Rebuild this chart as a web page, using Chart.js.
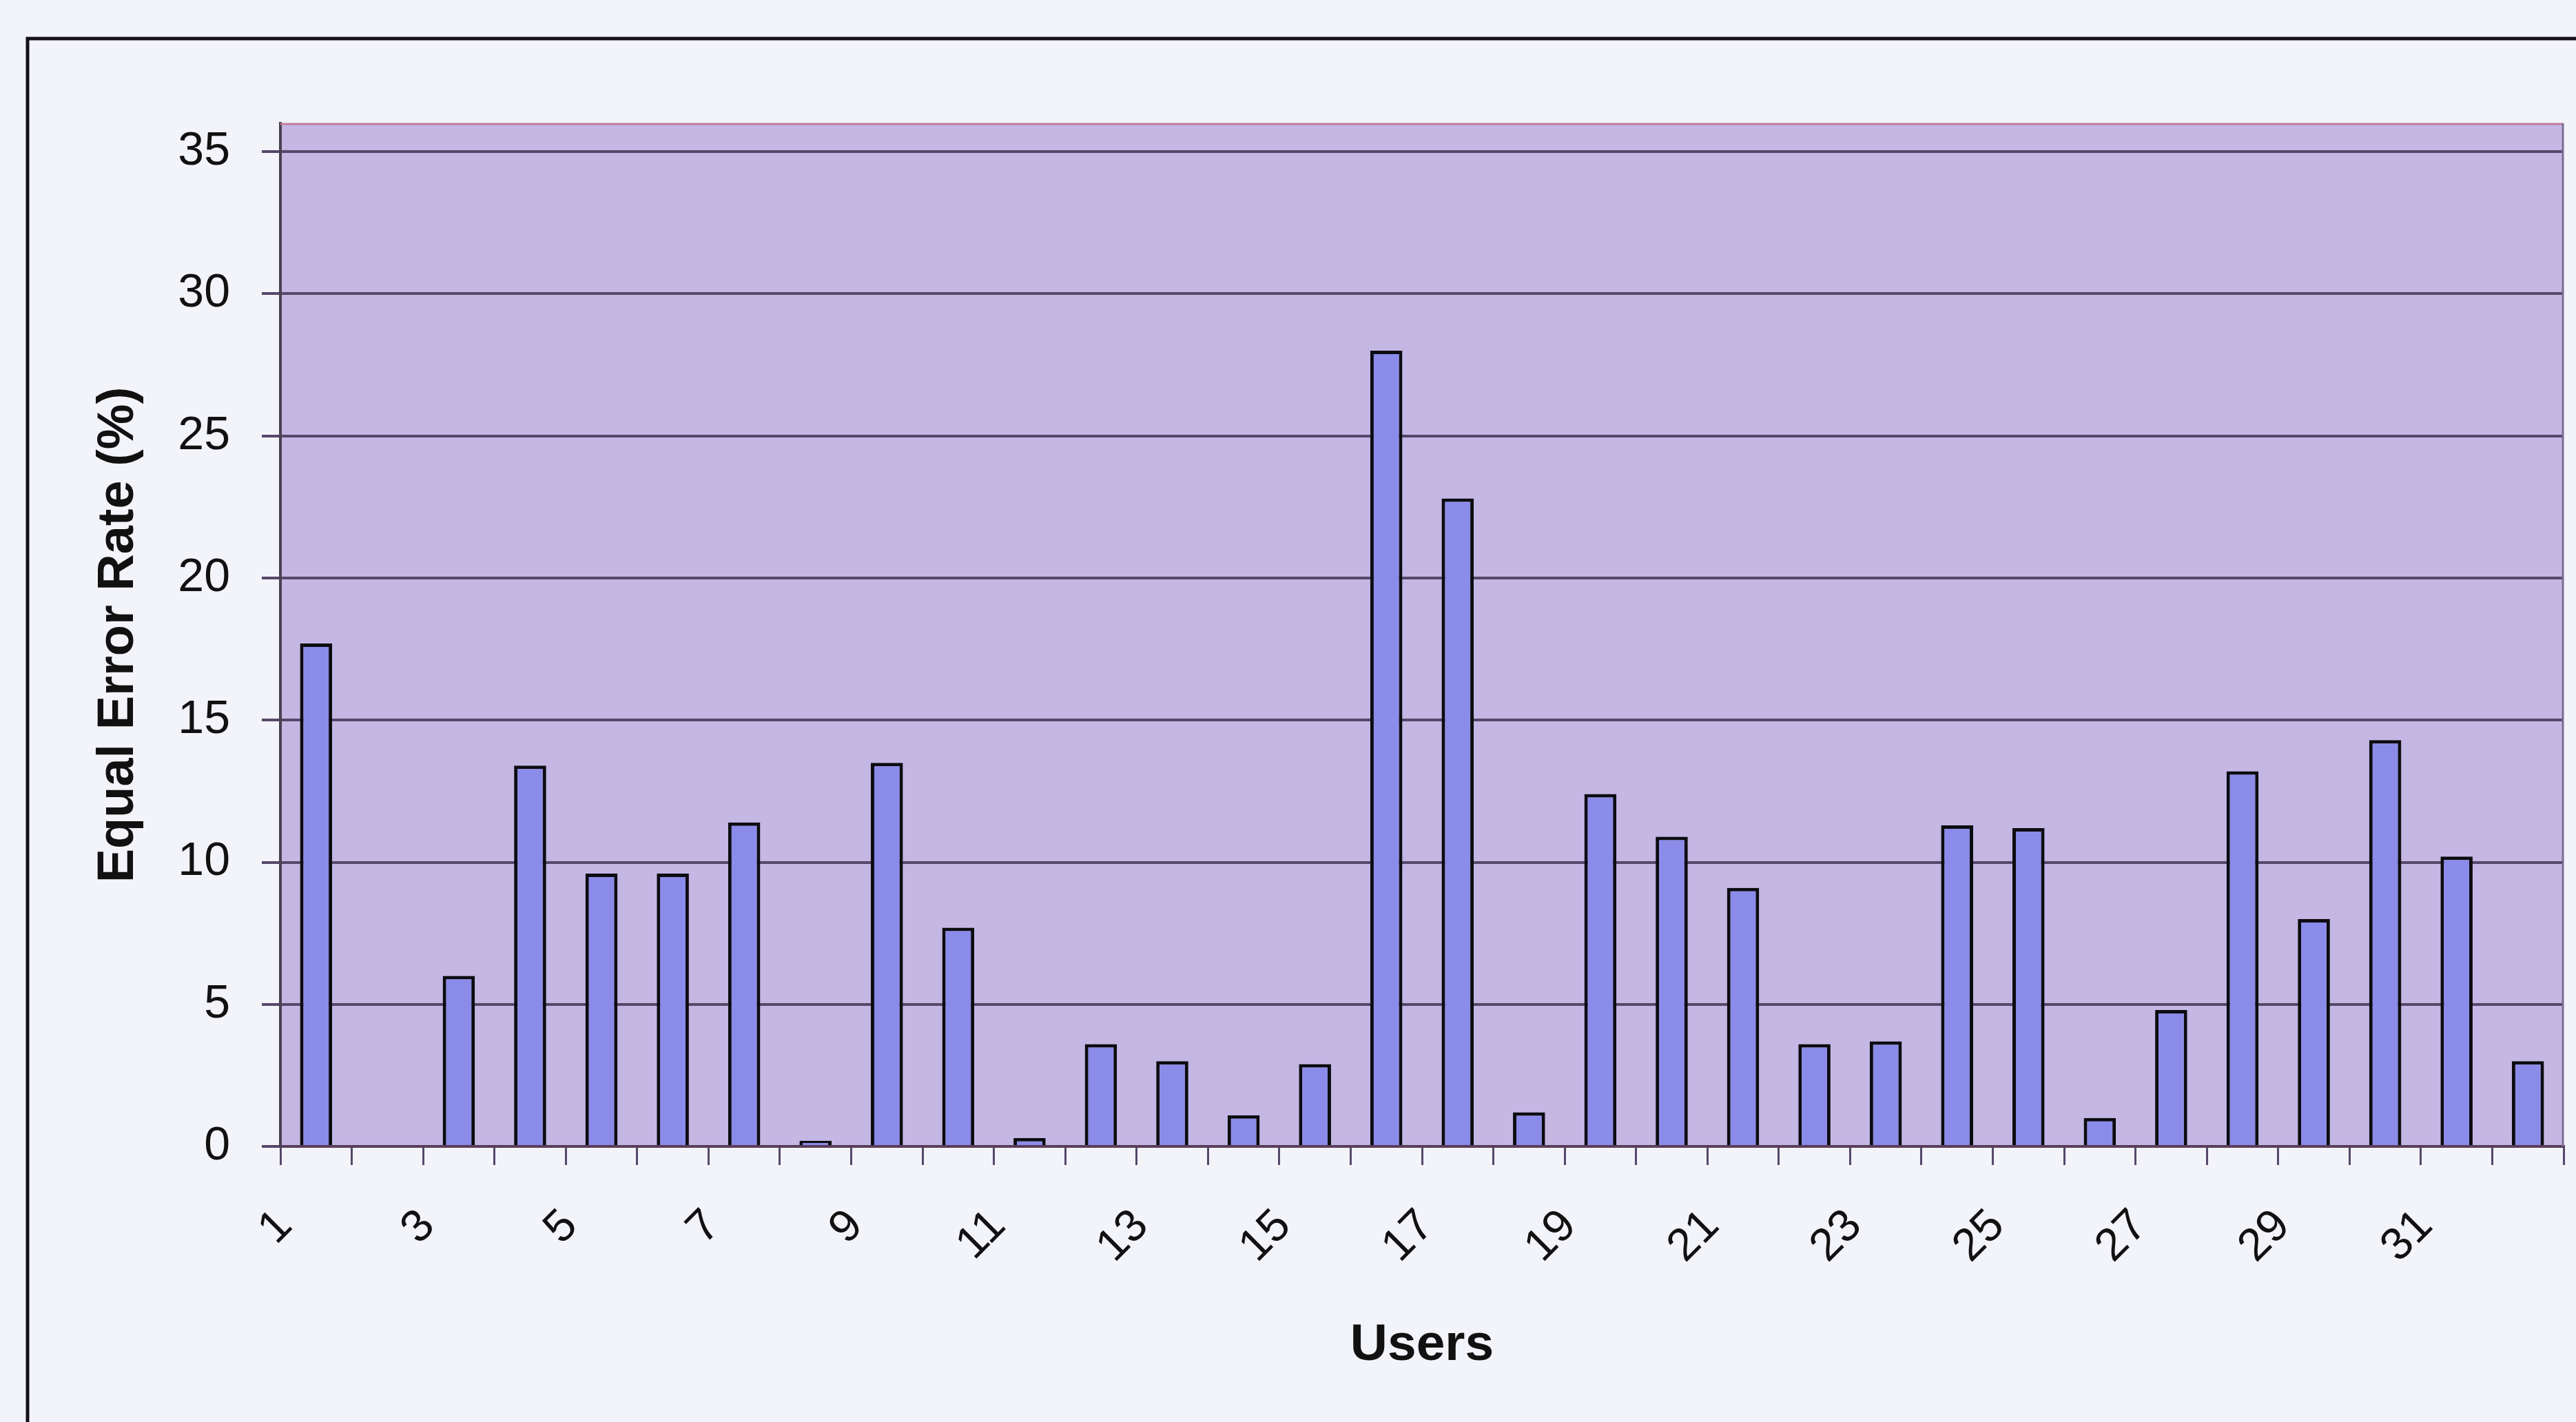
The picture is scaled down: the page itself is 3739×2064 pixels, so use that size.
<!DOCTYPE html>
<html>
<head>
<meta charset="utf-8">
<script src="https://cdn.jsdelivr.net/npm/chart.js@4.4.1/dist/chart.umd.min.js"></script>
<style>
  html, body { margin: 0; padding: 0; background: #f3f3fa; overflow: hidden; }
  #wrap { position: absolute; left: 0; top: 0; width: 3739px; height: 2064px; }
</style>
</head>
<body>
<div id="wrap"><canvas id="c" width="3739" height="2064"></canvas></div>
<script>
const users = ['1','2','3','4','5','6','7','8','9','10','11','12','13','14','15','16',
               '17','18','19','20','21','22','23','24','25','26','27','28','29','30','31','32'];
const eer = [17.7, 0, 6.0, 13.4, 9.6, 9.6, 11.4, 0.2, 13.5, 7.7, 0.3, 3.6, 3.0, 1.1, 2.9, 28.0,
             22.8, 1.2, 12.4, 10.9, 9.1, 3.6, 3.7, 11.3, 11.2, 1.0, 4.8, 13.2, 8.0, 14.3, 10.2, 3.0];
const yTicks = [0, 5, 10, 15, 20, 25, 30, 35];
const yMax = 36;
const xTitle = 'Users';
const yTitle = 'Equal Error Rate (%)';

const PAPER = '#f3f3fa';
const PLOT_BG = '#c4b7e4';
const BAR = '#8b8bea';
const GRID = '#56486a';
const FONT = '"Liberation Sans", Arial, sans-serif';

const backdrop = {
  id: 'backdrop',
  beforeDraw(chart) {
    const { ctx, chartArea: a } = chart;
    ctx.save();
    ctx.fillStyle = PAPER;
    ctx.fillRect(0, 0, chart.width, chart.height);
    // outer frame (only top and left edges visible)
    ctx.strokeStyle = '#151018';
    ctx.lineWidth = 5;
    ctx.strokeRect(40, 56, 4000, 3000);
    // plot area background
    ctx.fillStyle = PLOT_BG;
    ctx.fillRect(a.left, a.top, a.right - a.left, a.bottom - a.top);
    ctx.restore();
  },
  afterDatasetsDraw(chart) {
    const { ctx, chartArea: a } = chart;
    ctx.save();
    ctx.lineWidth = 3;
    ctx.strokeStyle = '#c27c9c';
    ctx.beginPath(); ctx.moveTo(a.left, a.top + 1); ctx.lineTo(a.right, a.top + 1); ctx.stroke();
    ctx.strokeStyle = '#7a6c92';
    ctx.beginPath(); ctx.moveTo(a.right - 1, a.top); ctx.lineTo(a.right - 1, a.bottom); ctx.stroke();
    ctx.restore();
  }
};

new Chart(document.getElementById('c'), {
  type: 'bar',
  data: {
    labels: users,
    datasets: [{
      data: eer,
      backgroundColor: BAR,
      borderColor: '#0c0c10',
      borderWidth: 5,
      borderSkipped: 'bottom',
      barPercentage: 0.45,
      categoryPercentage: 1.0
    }]
  },
  options: {
    responsive: false,
    animation: false,
    devicePixelRatio: 1,
    layout: { padding: { left: 0, top: 179, right: 18, bottom: 0 } },
    plugins: { legend: { display: false }, tooltip: { enabled: false } },
    scales: {
      x: {
        offset: true,
        afterFit(s) { s.height = 400; s.paddingLeft = 0; s.paddingRight = 0; },
        grid: {
          offset: true,
          drawOnChartArea: false,
          drawTicks: true,
          tickLength: 27,
          color: GRID,
          lineWidth: 3
        },
        border: { display: true, color: '#5a3e5a', width: 4 },
        ticks: {
          autoSkip: false,
          minRotation: 45,
          maxRotation: 45,
          padding: 50,
          labelOffset: -45,
          color: '#111',
          font: { family: FONT, size: 66 },
          callback(v, i) { return (i % 2 === 0) ? users[i] : ''; }
        },
        title: {
          display: true,
          text: xTitle,
          color: '#111',
          font: { family: FONT, size: 75, weight: 'bold' },
          padding: { top: 0, bottom: 66 }
        }
      },
      y: {
        min: 0,
        max: yMax,
        afterFit(s) { s.width = 407; },
        afterBuildTicks(s) { s.ticks = yTicks.map(v => ({ value: v })); },
        grid: {
          drawOnChartArea: true,
          drawTicks: true,
          tickLength: 27,
          color: GRID,
          lineWidth: 4
        },
        border: { display: true, color: '#4a4050', width: 4 },
        ticks: {
          padding: 46,
          color: '#111',
          font: { family: FONT, size: 68 },
          callback(v) { return String(v); }
        },
        title: {
          display: true,
          text: yTitle,
          color: '#111',
          font: { family: FONT, size: 74, weight: 'bold' },
          padding: { top: 128, bottom: 0 }
        }
      }
    }
  },
  plugins: [backdrop]
});
</script>
</body>
</html>
